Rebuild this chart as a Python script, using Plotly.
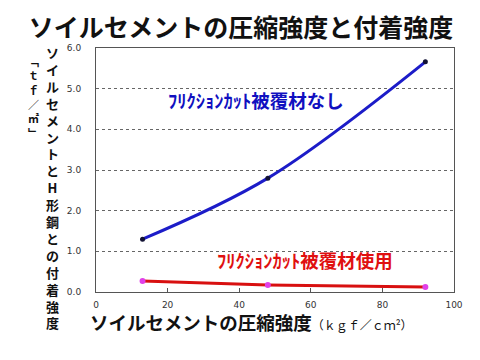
import plotly.graph_objects as go

x_vals = [13, 48, 92]
blue_vals = [1.30, 2.80, 5.66]
red_vals = [0.27, 0.17, 0.12]
x_ticks = [0, 20, 40, 60, 80, 100]
y_ticks = [0, 1, 2, 3, 4, 5, 6]

title_text = "ソイルセメントの圧縮強度と付着強度"
y_title = "ソイルセメントとH形鋼との付着強度"
y_unit = "﹁ｔｆ／㎡﹂"
x_title_main = "ソイルセメントの圧縮強度"
x_title_unit = "（ｋｇｆ／ｃｍ²）"
label_blue = "ﾌﾘｸｼｮﾝｶｯﾄ被覆材なし"
label_red = "ﾌﾘｸｼｮﾝｶｯﾄ被覆材使用"

FONT = "Noto Sans CJK JP"
OFF = 8  # page body margin
W, H = 480 - OFF, 360 - OFF
# plot area in page pixels
PL, PR, PT, PB = 96, 454, 48, 292
L, R, T, B = PL - OFF, PR - OFF, PT - OFF, PB - OFF


def px(xp):
    return (xp - PL) / (PR - PL)


def py(yp):
    return (PB - yp) / (PB - PT)


fig = go.Figure()
fig.add_trace(go.Scatter(
    x=x_vals, y=blue_vals, mode="lines+markers", line_shape="spline",
    line=dict(color="#1c1cc8", width=3),
    marker=dict(color="#111133", size=5), showlegend=False))
fig.add_trace(go.Scatter(
    x=x_vals, y=red_vals, mode="lines+markers",
    line=dict(color="#d81010", width=3),
    marker=dict(color="#e040e8", size=6), showlegend=False))

annotations = [
    dict(text="<b>" + label_blue + "</b>", x=44.7, y=4.73, xref="x", yref="y",
         showarrow=False, font=dict(family=FONT, size=18.5, color="#1010c0")),
    dict(text="<b>" + label_red + "</b>", x=58.4, y=0.79, xref="x", yref="y",
         showarrow=False, font=dict(family=FONT, size=18.5, color="#e01010")),
    dict(text="<b>" + "<br>".join(list(y_title)) + "</b>", x=px(52), y=py(41),
         xref="paper", yref="paper", showarrow=False, xanchor="center", yanchor="top",
         font=dict(family=FONT, size=13, color="#111111")),
    dict(text="<b>" + "<br>".join(list(y_unit)) + "</b>", x=px(33), y=py(51),
         xref="paper", yref="paper", showarrow=False, xanchor="center", yanchor="top",
         font=dict(family=FONT, size=11, color="#111111")),
    dict(text="<b>" + x_title_main + "</b>" + "<span style='font-size:12px'>" + x_title_unit + "</span>",
         x=px(88), y=py(322), xref="paper", yref="paper", showarrow=False,
         xanchor="left", yanchor="middle",
         font=dict(family=FONT, size=18.5, color="#111111")),
]

fig.update_layout(
    width=W, height=H,
    margin=dict(l=L, r=W - R, t=T, b=H - B, pad=0),
    paper_bgcolor="white", plot_bgcolor="white",
    title=dict(text="<b>" + title_text + "</b>", x=(241 - OFF) / W, xanchor="center",
               y=1 - (28 - OFF) / H, yanchor="middle",
               font=dict(family=FONT, size=25, color="#111111")),
    annotations=annotations,
    font=dict(family=FONT),
)
fig.update_xaxes(range=[0, 100], tickvals=x_ticks, ticks="inside", ticklen=4,
                 tickcolor="#555", showgrid=False, zeroline=False,
                 showline=True, linecolor="#555", linewidth=1, mirror=True,
                 ticklabelstandoff=4,
                 tickfont=dict(family="DejaVu Sans", size=9, color="#333"))
fig.update_yaxes(range=[0, 6], tickvals=y_ticks, tickformat=".1f",
                 showgrid=True, gridcolor="#666", griddash="dot", gridwidth=1,
                 zeroline=False, showline=True, linecolor="#555", linewidth=1,
                 mirror=True, ticks="", ticklabelstandoff=12,
                 tickfont=dict(family="DejaVu Sans", size=9, color="#333"))

fig.write_html("out.html")
